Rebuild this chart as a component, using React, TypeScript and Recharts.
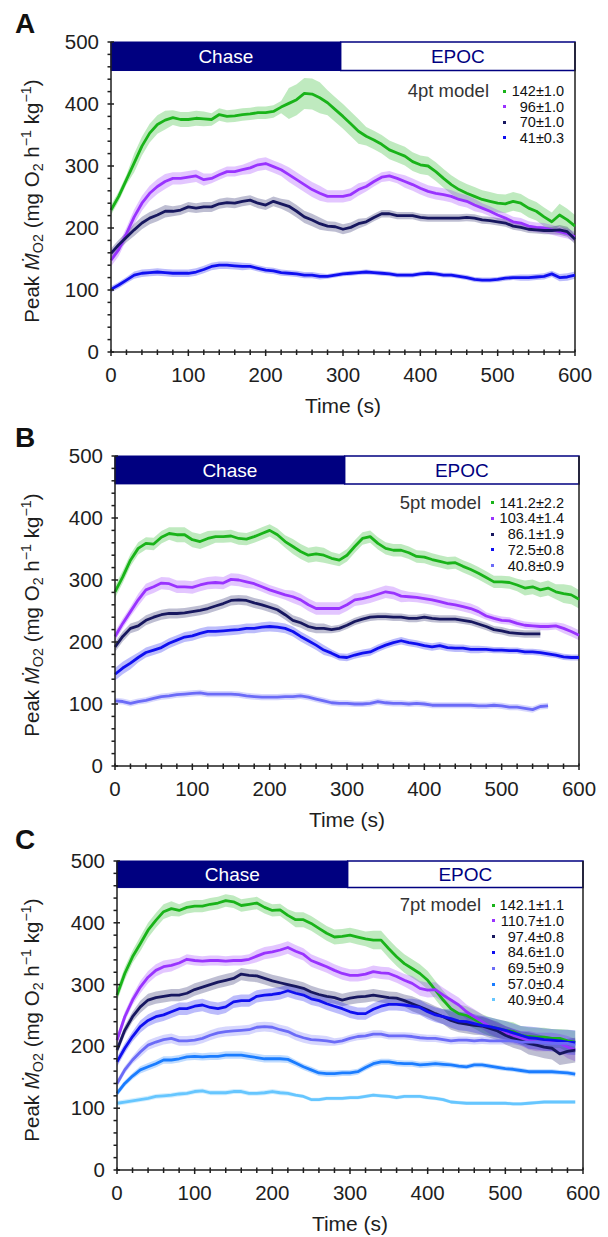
import React from "react";
import { Area, ComposedChart, Line, ReferenceArea, ReferenceLine, XAxis, YAxis } from "recharts";

const FONT = '"Liberation Sans", Arial, Helvetica, sans-serif';

// time grid (s)
const TIMES_600 = Array.from({ length: 61 }, (_, i) => i * 10);
const TIMES_590 = TIMES_600.slice(0, 60);
const X_TICKS = Array.from({ length: 31 }, (_, i) => i * 20);
const Y_TICKS = Array.from({ length: 26 }, (_, i) => i * 20);
const CHASE_END = 297;

// ---- Panel A (4pt model) ----
const A_142 = [229, 251, 278, 305, 332, 353, 367, 374, 378, 375, 375, 377, 376, 375, 383, 380, 381, 383, 384, 386, 386, 388, 395, 401, 407, 417, 416, 410, 402, 391, 380, 368, 356, 348, 342, 335, 326, 321, 316, 307, 302, 300, 291, 280, 270, 262, 256, 251, 246, 243, 240, 239, 243, 240, 232, 227, 218, 210, 221, 213, 203];
const A_96 = [148, 165, 191, 218, 240, 256, 267, 275, 280, 280, 282, 284, 278, 280, 286, 291, 291, 294, 297, 302, 304, 299, 294, 286, 278, 270, 262, 256, 251, 251, 251, 254, 262, 267, 275, 282, 284, 280, 275, 270, 264, 259, 256, 254, 251, 246, 243, 237, 232, 227, 221, 216, 210, 208, 203, 201, 200, 197, 194, 191, 186];
const A_70 = [159, 173, 185, 197, 208, 216, 221, 227, 227, 229, 234, 232, 234, 234, 239, 241, 240, 243, 245, 240, 237, 243, 239, 235, 227, 218, 213, 207, 203, 202, 198, 201, 207, 210, 217, 223, 223, 220, 220, 220, 217, 216, 216, 216, 216, 216, 217, 216, 213, 212, 210, 208, 203, 201, 198, 197, 196, 196, 197, 194, 182];
const A_41 = [101, 108, 116, 124, 127, 128, 129, 128, 127, 127, 127, 129, 133, 138, 140, 140, 139, 138, 138, 135, 132, 131, 128, 127, 126, 124, 124, 122, 122, 124, 126, 127, 128, 129, 128, 127, 126, 124, 124, 124, 126, 127, 126, 124, 124, 122, 120, 117, 116, 116, 117, 119, 120, 120, 120, 121, 122, 126, 120, 121, 124];
// band half-widths every 50 s
const A_142_ERR = [8, 15, 12, 10, 10, 25, 20, 15, 15, 15, 15, 15, 18];
const A_96_ERR = [10, 12, 10, 8, 10, 12, 10, 8, 10, 10, 8, 8, 8];
const A_70_ERR = [8, 10, 8, 8, 8, 10, 8, 6, 6, 6, 6, 6, 8];
const A_41_ERR = [5, 6, 6, 6, 5, 5, 4, 4, 4, 4, 4, 5, 6];

// ---- Panel B (5pt model) ----
const B_141 = [281, 305, 332, 351, 359, 358, 369, 375, 373, 373, 365, 362, 367, 370, 370, 371, 367, 366, 370, 375, 380, 373, 362, 354, 346, 340, 342, 340, 335, 332, 340, 354, 367, 370, 359, 351, 348, 348, 344, 338, 337, 333, 330, 327, 328, 322, 317, 311, 304, 297, 297, 296, 292, 287, 289, 284, 287, 281, 278, 276, 269];
const B_103 = [209, 230, 249, 268, 284, 289, 295, 294, 289, 289, 288, 292, 295, 296, 295, 301, 300, 297, 294, 289, 284, 280, 276, 273, 268, 260, 254, 254, 254, 254, 260, 268, 270, 273, 277, 281, 279, 274, 273, 272, 270, 268, 265, 262, 260, 257, 254, 249, 242, 238, 235, 234, 230, 227, 226, 225, 225, 226, 222, 217, 211];
const B_86 = [192, 209, 222, 226, 235, 240, 244, 246, 246, 247, 249, 251, 254, 258, 262, 267, 268, 267, 263, 260, 256, 252, 244, 235, 231, 225, 222, 222, 220, 222, 227, 233, 237, 240, 241, 241, 240, 240, 238, 238, 240, 238, 237, 237, 237, 235, 233, 229, 225, 220, 218, 215, 214, 213, 213, 213];
const B_72 = [148, 158, 166, 175, 183, 187, 191, 198, 203, 208, 210, 214, 217, 217, 218, 219, 220, 222, 222, 224, 225, 224, 222, 217, 209, 202, 195, 187, 182, 176, 175, 179, 182, 184, 190, 195, 199, 202, 199, 197, 194, 192, 194, 191, 190, 190, 188, 188, 188, 187, 187, 186, 186, 184, 184, 183, 181, 179, 176, 175, 175];
const B_40 = [105, 104, 101, 104, 106, 109, 112, 113, 115, 116, 117, 118, 116, 116, 116, 116, 115, 113, 112, 111, 111, 111, 112, 112, 113, 111, 108, 105, 102, 101, 101, 100, 100, 101, 104, 102, 101, 101, 100, 101, 100, 98, 98, 98, 98, 98, 98, 97, 97, 98, 97, 95, 95, 93, 91, 96, 97];
const B_141_ERR = [10, 10, 12, 10, 10, 12, 10, 10, 10, 10, 10, 12, 15];
const B_103_ERR = [8, 10, 10, 10, 8, 10, 10, 10, 8, 8, 6, 6, 8];
const B_86_ERR = [8, 8, 8, 8, 8, 8, 6, 6, 6, 6, 6, 6, 6];
const B_72_ERR = [10, 8, 8, 8, 8, 8, 6, 6, 6, 6, 5, 5, 5];
const B_40_ERR = [5, 5, 5, 5, 5, 5, 5, 5, 5, 5, 5, 5, 5];

// ---- Panel C (7pt model) ----
const C_142 = [283, 318, 345, 366, 388, 404, 418, 423, 420, 425, 427, 427, 430, 432, 436, 434, 428, 430, 432, 425, 420, 421, 412, 405, 405, 399, 391, 383, 377, 378, 380, 377, 374, 372, 372, 358, 345, 334, 326, 318, 307, 291, 275, 261, 253, 250, 244, 237, 232, 229, 226, 224, 218, 216, 215, 215, 213, 213, 209, 207];
const C_110 = [210, 248, 275, 296, 312, 323, 329, 331, 335, 341, 339, 338, 339, 339, 338, 339, 339, 341, 346, 351, 353, 356, 360, 354, 349, 339, 334, 329, 323, 318, 315, 315, 317, 321, 319, 318, 313, 307, 302, 294, 291, 292, 283, 275, 267, 256, 248, 240, 232, 226, 221, 217, 213, 210, 207, 207, 207, 205, 199, 194];
const C_97 = [194, 226, 248, 264, 275, 279, 281, 283, 283, 286, 292, 296, 300, 304, 307, 310, 317, 315, 314, 310, 306, 303, 300, 297, 294, 288, 284, 281, 279, 275, 278, 280, 281, 283, 281, 279, 278, 274, 269, 264, 259, 253, 248, 242, 238, 236, 234, 233, 229, 225, 218, 213, 209, 205, 202, 199, 197, 188, 192, 194];
const C_84 = [175, 197, 216, 232, 242, 248, 251, 256, 261, 261, 265, 267, 263, 261, 264, 272, 274, 274, 281, 283, 284, 286, 290, 286, 283, 277, 274, 269, 265, 261, 256, 253, 253, 260, 265, 268, 268, 267, 265, 263, 256, 251, 248, 245, 241, 240, 237, 234, 232, 229, 226, 222, 218, 214, 213, 211, 210, 209, 207, 206];
const C_69 = [140, 162, 178, 191, 202, 207, 211, 213, 209, 209, 210, 213, 218, 222, 224, 225, 226, 227, 231, 232, 231, 227, 224, 218, 214, 211, 210, 209, 207, 209, 213, 216, 217, 220, 220, 217, 217, 217, 216, 214, 213, 213, 211, 209, 210, 210, 209, 210, 209, 209, 209, 209, 207, 207, 207, 206, 205, 205, 205, 202];
const C_57 = [124, 140, 152, 162, 167, 172, 178, 178, 180, 183, 184, 183, 184, 184, 186, 186, 186, 184, 182, 180, 180, 180, 179, 173, 167, 162, 157, 156, 156, 157, 157, 159, 166, 172, 175, 175, 173, 172, 172, 170, 171, 172, 171, 170, 168, 167, 170, 170, 168, 166, 164, 163, 161, 159, 159, 159, 159, 158, 157, 155];
const C_40 = [108, 110, 112, 114, 116, 119, 120, 121, 123, 124, 127, 128, 125, 125, 125, 127, 127, 124, 124, 125, 127, 125, 124, 121, 119, 114, 114, 116, 116, 116, 117, 117, 119, 121, 120, 119, 117, 119, 119, 119, 117, 116, 114, 110, 109, 108, 108, 108, 108, 108, 108, 107, 107, 108, 109, 110, 110, 110, 110, 110];
const C_142_ERR = [10, 12, 10, 10, 10, 12, 12, 15, 15, 15, 15, 15, 18];
const C_110_ERR = [8, 10, 8, 8, 10, 10, 10, 10, 12, 12, 12, 15, 18];
const C_97_ERR = [8, 10, 10, 10, 10, 10, 10, 10, 12, 15, 15, 18, 20];
const C_84_ERR = [8, 10, 10, 10, 10, 10, 10, 10, 12, 15, 15, 18, 20];
const C_69_ERR = [6, 8, 8, 8, 8, 8, 6, 6, 6, 6, 6, 6, 8];
const C_57_ERR = [5, 6, 6, 6, 6, 5, 5, 5, 5, 4, 4, 4, 4];
const C_40_ERR = [4, 4, 4, 4, 4, 3, 3, 3, 3, 3, 3, 3, 3];

const GREEN = "#19b319";
const PURPLE = "#9933ff";
const NAVY = "#17175f";
const BLUE = "#0f0ff0";
const LAVENDER = "#6b6bf7";
const AZURE = "#1a7cff";
const SKY = "#66c6ff";

type Series = { label: string; color: string; mean: number[]; err: number[] };

const SERIES_A: Series[] = [
  { label: "142±1.0", color: GREEN, mean: A_142, err: A_142_ERR },
  { label: "96±1.0", color: PURPLE, mean: A_96, err: A_96_ERR },
  { label: "70±1.0", color: NAVY, mean: A_70, err: A_70_ERR },
  { label: "41±0.3", color: BLUE, mean: A_41, err: A_41_ERR },
];
const SERIES_B: Series[] = [
  { label: "141.2±2.2", color: GREEN, mean: B_141, err: B_141_ERR },
  { label: "103.4±1.4", color: PURPLE, mean: B_103, err: B_103_ERR },
  { label: "86.1±1.9", color: NAVY, mean: B_86, err: B_86_ERR },
  { label: "72.5±0.8", color: BLUE, mean: B_72, err: B_72_ERR },
  { label: "40.8±0.9", color: LAVENDER, mean: B_40, err: B_40_ERR },
];
const SERIES_C: Series[] = [
  { label: "142.1±1.1", color: GREEN, mean: C_142, err: C_142_ERR },
  { label: "110.7±1.0", color: PURPLE, mean: C_110, err: C_110_ERR },
  { label: "97.4±0.8", color: NAVY, mean: C_97, err: C_97_ERR },
  { label: "84.6±1.0", color: BLUE, mean: C_84, err: C_84_ERR },
  { label: "69.5±0.9", color: LAVENDER, mean: C_69, err: C_69_ERR },
  { label: "57.0±0.4", color: AZURE, mean: C_57, err: C_57_ERR },
  { label: "40.9±0.4", color: SKY, mean: C_40, err: C_40_ERR },
];

const buildRows = (times: number[], series: Series[]) =>
  times.map((t, i) => {
    const row: Record<string, any> = { t };
    series.forEach((s, k) => {
      const m = s.mean[i];
      if (m === undefined) return;
      const e = s.err[Math.round(t / 50)];
      row[`m${k}`] = m;
      row[`b${k}`] = [m - e, m + e];
    });
    return row;
  });

const PANELS = [
  {
    letter: "A", top: 0, height: 420, plot: { top: 42, bottom: 352, left: 111, right: 575 }, barBottom: 454,
    letterY: 24, title: "4pt model", titleRight: 489, rowY: 91, rowStep: 15.6, dotX: 504,
    series: SERIES_A, rows: buildRows(TIMES_600, SERIES_A),
  },
  {
    letter: "B", top: 420, height: 420, plot: { top: 456, bottom: 766, left: 115, right: 579 }, barBottom: 455,
    letterY: 438, title: "5pt model", titleRight: 481, rowY: 502.5, rowStep: 15.8, dotX: 492,
    series: SERIES_B, rows: buildRows(TIMES_600, SERIES_B),
  },
  {
    letter: "C", top: 840, height: 397, plot: { top: 861, bottom: 1170, left: 117, right: 583 }, barBottom: 457,
    letterY: 840, title: "7pt model", titleRight: 481, rowY: 905, rowStep: 15.8, dotX: 493,
    series: SERIES_C, rows: buildRows(TIMES_590, SERIES_C),
  },
];

const X_AXIS_H = 50;
const Y_AXIS_W = 60;
const INK = "#1e1e1e";

const XTick = (props: any) => {
  const { x, y, payload } = props;
  const v = payload.value;
  const major = v % 100 === 0;
  return (
    <g>
      <line x1={x} x2={x} y1={y - 2.5} y2={y + (major ? 4 : 3)} stroke={INK} strokeWidth={1.5} />
      {major && (
        <text x={x} y={y + 30} textAnchor="middle" fontSize={20.5} fill={INK} fontFamily={FONT}>
          {v}
        </text>
      )}
    </g>
  );
};

const YTick = (props: any) => {
  const { x, y, payload } = props;
  const v = payload.value;
  const major = v % 100 === 0;
  return (
    <g>
      <line x1={x - 3.5} x2={major ? x + 3 : x} y1={y} y2={y} stroke={INK} strokeWidth={1.5} />
      {major && (
        <text x={x - 12} y={y + 7} textAnchor="end" fontSize={20.5} fill={INK} fontFamily={FONT}>
          {v}
        </text>
      )}
    </g>
  );
};

const abs = (left: number, top: number): React.CSSProperties => ({ position: "absolute", left, top });

const Panel = ({ p }: { p: (typeof PANELS)[number] }) => {
  const margin = {
    top: p.plot.top - p.top,
    bottom: p.top + p.height - p.plot.bottom - X_AXIS_H,
    left: p.plot.left - Y_AXIS_W,
    right: 608 - p.plot.right,
  };
  const midX = (p.plot.left + p.plot.right) / 2;
  const midY = (p.plot.top + p.plot.bottom) / 2 + 4;
  return (
    <>
      <div style={{ ...abs(0, p.top), width: 608, height: p.height }}>
        <ComposedChart width={608} height={p.height} data={p.rows} margin={margin}>
          <XAxis
            type="number"
            dataKey="t"
            domain={[0, 600]}
            ticks={X_TICKS}
            interval={0}
            height={X_AXIS_H}
            tickSize={0}
            tickMargin={0}
            tickLine={false}
            axisLine={{ stroke: INK, strokeWidth: 1.5 }}
            tick={(props: any) => <XTick {...props} />}
          />
          <YAxis
            type="number"
            domain={[0, 500]}
            ticks={Y_TICKS}
            interval={0}
            width={Y_AXIS_W}
            tickSize={0}
            tickMargin={0}
            tickLine={false}
            axisLine={{ stroke: INK, strokeWidth: 1.5 }}
            tick={(props: any) => <YTick {...props} />}
          />
          <ReferenceLine x={600} stroke={INK} strokeWidth={1.5} />
          {p.series.map((s, k) => (
            <Area
              key={`b${k}`}
              dataKey={`b${k}`}
              stroke="none"
              fill={s.color}
              fillOpacity={0.28}
              isAnimationActive={false}
              activeDot={false}
            />
          ))}
          {p.series.map((s, k) => (
            <Line
              key={`m${k}`}
              dataKey={`m${k}`}
              stroke={s.color}
              strokeWidth={2.8}
              strokeLinejoin="round"
              dot={false}
              activeDot={false}
              isAnimationActive={false}
            />
          ))}
          <ReferenceArea
            x1={0}
            x2={CHASE_END}
            y1={p.barBottom}
            y2={500}
            fill="#000080"
            fillOpacity={1}
            stroke="#000080"
            label={{ value: "Chase", position: "center", fill: "#ffffff", fontSize: 19, fontFamily: FONT }}
          />
          <ReferenceArea
            x1={CHASE_END}
            x2={600}
            y1={p.barBottom}
            y2={500}
            fill="#ffffff"
            fillOpacity={1}
            stroke="#000080"
            strokeWidth={1.5}
            label={{ value: "EPOC", position: "center", fill: "#000080", fontSize: 19, fontFamily: FONT }}
          />
        </ComposedChart>
      </div>

      <div style={{ ...abs(15, p.letterY - 16), fontSize: 28, fontWeight: "bold", lineHeight: "32px", color: "#111" }}>
        {p.letter}
      </div>

      <div
        style={{
          ...abs(32, midY),
          transform: "translate(-50%, -50%) rotate(-90deg)",
          whiteSpace: "nowrap",
          fontSize: 20.5,
          lineHeight: "24px",
          color: INK,
        }}
      >
        Peak <i>Ṁ</i>
        <sub style={{ fontSize: "0.7em", verticalAlign: "-0.3em" }}>O2</sub> (mg O
        <sub style={{ fontSize: "0.7em", verticalAlign: "-0.3em" }}>2</sub> h
        <sup style={{ fontSize: "0.7em", verticalAlign: "0.6em" }}>−1</sup> kg
        <sup style={{ fontSize: "0.7em", verticalAlign: "0.6em" }}>−1</sup>)
      </div>

      <div
        style={{
          ...abs(midX, p.plot.bottom + 54),
          transform: "translate(-50%, -50%)",
          whiteSpace: "nowrap",
          fontSize: 21,
          lineHeight: "24px",
          color: INK,
        }}
      >
        Time (s)
      </div>

      <div
        style={{
          ...abs(p.titleRight - 120, p.rowY - 12),
          width: 120,
          textAlign: "right",
          fontSize: 18.5,
          lineHeight: "24px",
          color: "#333",
        }}
      >
        {p.title}
      </div>
      {p.series.map((s, k) => {
        const cy = p.rowY + k * p.rowStep;
        return (
          <React.Fragment key={s.label}>
            <div style={{ ...abs(p.dotX - 1.5, cy - 1.5), width: 3, height: 3, background: s.color }} />
            <div
              style={{
                ...abs(564 - 100, cy - 9),
                width: 100,
                textAlign: "right",
                fontSize: 14.5,
                lineHeight: "18px",
                color: "#111",
                whiteSpace: "nowrap",
              }}
            >
              {s.label}
            </div>
          </React.Fragment>
        );
      })}
    </>
  );
};

const App = () => (
  <div
    style={{
      position: "absolute",
      left: 0,
      top: 0,
      width: 608,
      height: 1237,
      background: "#fff",
      fontFamily: FONT,
      overflow: "hidden",
    }}
  >
    {PANELS.map((p) => (
      <Panel key={p.letter} p={p} />
    ))}
  </div>
);

export default App;
